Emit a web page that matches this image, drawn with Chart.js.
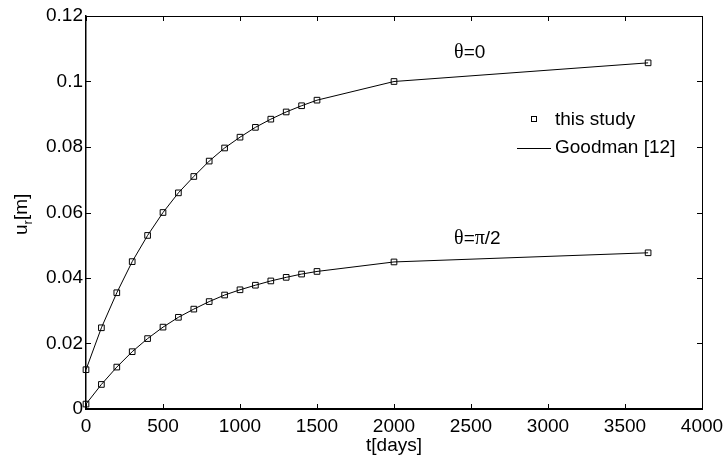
<!DOCTYPE html>
<html lang="en">
  <head>
    <meta charset="UTF-8" />
    <title>u_r vs t</title>
    <script src="https://cdn.jsdelivr.net/npm/chart.js@4"></script>
    <style>
      html, body { margin: 0; padding: 0; background: #fff; }
      #wrap { width: 726px; height: 457px; }
    </style>
  </head>
  <body>
    <div id="wrap"><canvas id="urChart" width="726" height="457"></canvas></div>
    <script>
      // data
      const tDays = [0, 100, 200, 300, 400, 500, 600, 700, 800, 900, 1000, 1100, 1200, 1300, 1400, 1500, 2000, 3650];
      const urTheta0 = [0.012, 0.0248, 0.0355, 0.045, 0.053, 0.060, 0.066, 0.071, 0.0757, 0.0797, 0.083, 0.086, 0.0885, 0.0907, 0.0926, 0.0943, 0.100, 0.1057];
      const urThetaPi2 = [0.0015, 0.0075, 0.0128, 0.0175, 0.0215, 0.025, 0.028, 0.0305, 0.0328, 0.0348, 0.0364, 0.0378, 0.0391, 0.0402, 0.0412, 0.042, 0.0449, 0.0477];
      const xTicks = [0, 500, 1000, 1500, 2000, 2500, 3000, 3500, 4000];
      const xTickLabels = ["0", "500", "1000", "1500", "2000", "2500", "3000", "3500", "4000"];
      const yTicks = [0, 0.02, 0.04, 0.06, 0.08, 0.1, 0.12];
      const yTickLabels = ["0", "0.02", "0.04", "0.06", "0.08", "0.1", "0.12"];
      const curveLabels = [
        { t: 2390, u: 0.1087, parts: [["θ", "serif"], ["=0", "sans"]] },
        { t: 2390, u: 0.0519, parts: [["θ", "serif"], ["=", "sans"], ["π", "serif"], ["/2", "sans"]] },
      ];

      const SANS = "'Liberation Sans', Arial, sans-serif";
      const SERIF = "'Liberation Serif', 'Times New Roman', serif";

      const pts = (ys) => tDays.map((t, i) => ({ x: t, y: ys[i] }));

      const lineSet = (ys) => ({
        data: pts(ys),
        borderColor: "#000",
        borderWidth: 1,
        pointRadius: 0,
        fill: false,
        tension: 0,
        clip: false,
      });
      const markSet = (ys) => ({
        data: pts(ys),
        showLine: false,
        pointStyle: "rect",
        pointRadius: 4,
        pointBorderWidth: 1,
        pointBorderColor: "#000",
        pointBackgroundColor: "rgba(0,0,0,0)",
        clip: false,
      });

      const framePlugin = {
        id: "frame",
        afterDraw(chart) {
          const ctx = chart.ctx;
          const a = chart.chartArea;
          const xs = chart.scales.x;
          const ys = chart.scales.y;
          ctx.save();
          ctx.strokeStyle = "#000";
          ctx.lineWidth = 1;
          ctx.beginPath();
          ctx.moveTo(a.left, a.top + 0.5);
          ctx.lineTo(a.right, a.top + 0.5);
          ctx.moveTo(a.right + 0.5, a.top);
          ctx.lineTo(a.right + 0.5, a.bottom);
          // inward ticks
          xTicks.forEach((v) => {
            const px = Math.round(xs.getPixelForValue(v)) + 0.5;
            ctx.moveTo(px, a.bottom);
            ctx.lineTo(px, a.bottom - 5);
            ctx.moveTo(px, a.top);
            ctx.lineTo(px, a.top + 5);
          });
          yTicks.forEach((v) => {
            const py = Math.round(ys.getPixelForValue(v)) + 0.5;
            ctx.moveTo(a.left, py);
            ctx.lineTo(a.left + 5, py);
            ctx.moveTo(a.right, py);
            ctx.lineTo(a.right - 5, py);
          });
          ctx.stroke();

          // y axis title u_r[m]
          ctx.fillStyle = "#000";
          ctx.translate(27, 235);
          ctx.rotate(-Math.PI / 2);
          ctx.textBaseline = "alphabetic";
          ctx.textAlign = "left";
          ctx.font = "19px " + SANS;
          ctx.fillText("u", 0, 0);
          let w = ctx.measureText("u").width;
          ctx.font = "13px " + SANS;
          ctx.fillText("r", w, 5);
          w += ctx.measureText("r").width;
          ctx.font = "19px " + SANS;
          ctx.fillText("[m]", w, 0);
          ctx.restore();

          // curve labels
          ctx.save();
          ctx.fillStyle = "#000";
          ctx.textBaseline = "middle";
          ctx.textAlign = "left";
          curveLabels.forEach((lab) => {
            let x = xs.getPixelForValue(lab.t);
            const y = ys.getPixelForValue(lab.u);
            lab.parts.forEach(([txt, f]) => {
              ctx.font = f === "serif" ? "20px " + SERIF : "19px " + SANS;
              ctx.fillText(txt, x, y);
              x += ctx.measureText(txt).width;
            });
          });

          // legend
          ctx.font = "19px " + SANS;
          ctx.strokeStyle = "#000";
          ctx.lineWidth = 1;
          ctx.strokeRect(531.5, 116.5, 5, 5);
          ctx.fillText("this study", 555, 120);
          ctx.beginPath();
          ctx.moveTo(517, 148.5);
          ctx.lineTo(551, 148.5);
          ctx.stroke();
          ctx.fillText("Goodman [12]", 555, 148);
          ctx.restore();
        },
      };

      const ctx = document.getElementById("urChart").getContext("2d");
      new Chart(ctx, {
        type: "line",
        data: {
          datasets: [lineSet(urTheta0), markSet(urTheta0), lineSet(urThetaPi2), markSet(urThetaPi2)],
        },
        options: {
          responsive: false,
          animation: false,
          layout: { padding: { top: 16, right: 24, left: 0, bottom: 0 } },
          plugins: { legend: { display: false }, tooltip: { enabled: false } },
          scales: {
            x: {
              type: "linear",
              min: 0,
              max: 4000,
              afterBuildTicks: (s) => { s.ticks = xTicks.map((v) => ({ value: v })); },
              afterFit: (s) => { s.height = 48; s.paddingLeft = 0; s.paddingRight = 0; },
              grid: { display: false, drawTicks: false },
              border: { display: true, color: "#000", width: 2 },
              ticks: {
                color: "#000",
                font: { family: SANS, size: 19 },
                padding: 6,
                maxRotation: 0,
                callback: (v, i) => xTickLabels[i],
              },
              title: { display: true, text: "t[days]", color: "#000", font: { family: SANS, size: 19 }, padding: { top: -4, bottom: 0 } },
            },
            y: {
              min: 0,
              max: 0.12,
              afterBuildTicks: (s) => { s.ticks = yTicks.map((v) => ({ value: v })); },
              afterFit: (s) => { s.width = 86; s.paddingTop = 0; s.paddingBottom = 0; },
              grid: { display: false, drawTicks: false },
              border: { display: true, color: "#000", width: 1.5 },
              ticks: {
                color: "#000",
                font: { family: SANS, size: 19 },
                padding: 3,
                callback: (v, i) => yTickLabels[i],
              },
            },
          },
        },
        plugins: [framePlugin],
      });
    </script>
  </body>
</html>
